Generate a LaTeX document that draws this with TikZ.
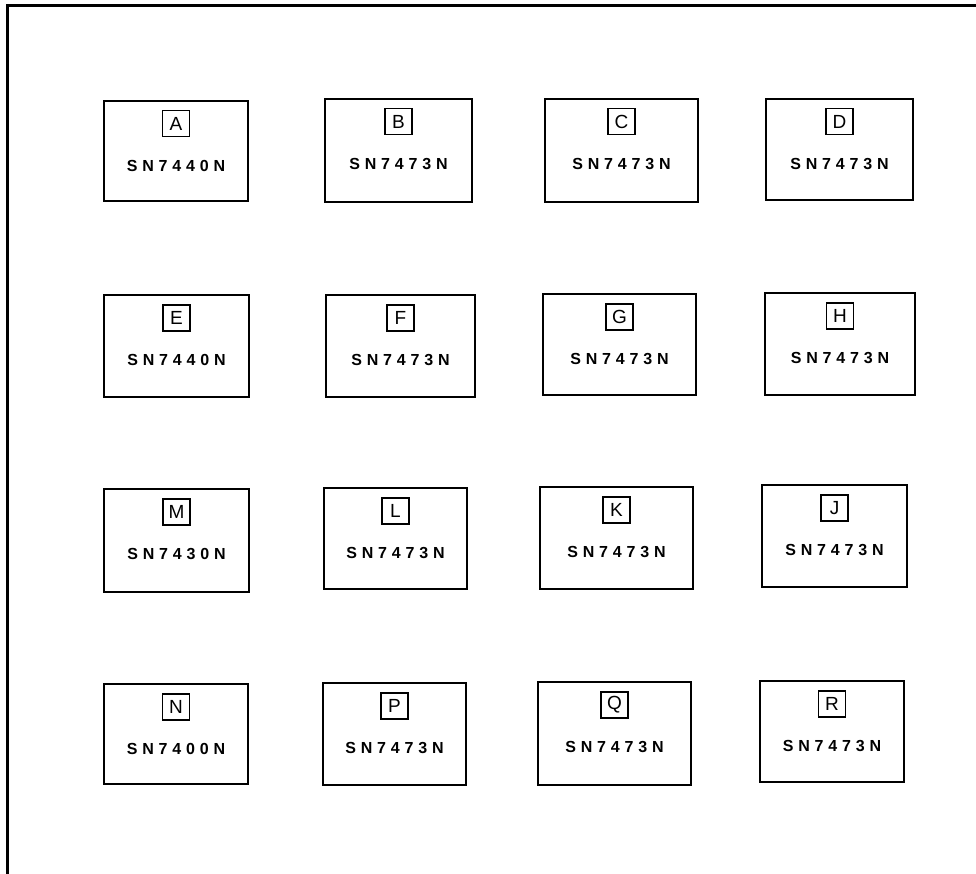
\documentclass[tikz,border=0pt]{standalone}
\usepackage{fontspec}
\setmainfont{Liberation Sans}
\newfontfamily\partfont[LetterSpace=30]{Liberation Sans Bold}
\tikzset{
  chip/.style={draw, line width=2.7pt, inner sep=0pt},
  tag/.style={draw, line width=1.7pt, minimum width=27pt, minimum height=26pt, inner sep=0pt,
    font=\fontsize{19}{19}\selectfont},
  part/.style={inner sep=0pt, font=\partfont\fontsize{16}{16}\selectfont},
  frameline/.style={line width=3pt}
}
% name, letter, part, left, top, right, bottom
\newcommand\chipbox[7]{%
  \node[chip, minimum width={(#6-#4)*1pt}, minimum height={(#7-#5)*1pt}]
    (#1) at ({(#4+#6)/2},{(#5+#7)/2}) {};
  \node[tag] (#1l) at ([yshift=-24pt]#1.north) {#2};
  \node[part] (#1t) at ([yshift=-66pt]#1.north) {#3};
}
\begin{document}
\begin{tikzpicture}[x=1pt,y=-1pt]
\useasboundingbox (0,0) rectangle (976,874);
\coordinate (fbot) at (7,874);
\coordinate (fcorner) at (7,6);
\coordinate (fright) at (976,6);
\draw[frameline] (fbot) -- (fcorner) -- (fright);

\chipbox{A}{A}{SN7440N}{104}{101}{248}{201}
\chipbox{B}{B}{SN7473N}{325}{99}{472}{202}
\chipbox{C}{C}{SN7473N}{545}{99}{698}{202}
\chipbox{D}{D}{SN7473N}{766}{99}{913}{200}

\chipbox{E}{E}{SN7440N}{104}{295}{249}{397}
\chipbox{F}{F}{SN7473N}{326}{295}{475}{397}
\chipbox{G}{G}{SN7473N}{543}{294}{696}{395}
\chipbox{H}{H}{SN7473N}{765}{293}{915}{395}

\chipbox{M}{M}{SN7430N}{104}{489}{249}{592}
\chipbox{L}{L}{SN7473N}{324}{488}{467}{589}
\chipbox{K}{K}{SN7473N}{540}{487}{693}{589}
\chipbox{J}{J}{SN7473N}{762}{485}{907}{587}

\chipbox{N}{N}{SN7400N}{104}{684}{248}{784}
\chipbox{P}{P}{SN7473N}{323}{683}{466}{785}
\chipbox{Q}{Q}{SN7473N}{538}{682}{691}{785}
\chipbox{R}{R}{SN7473N}{760}{681}{904}{782}
\end{tikzpicture}
\end{document}
